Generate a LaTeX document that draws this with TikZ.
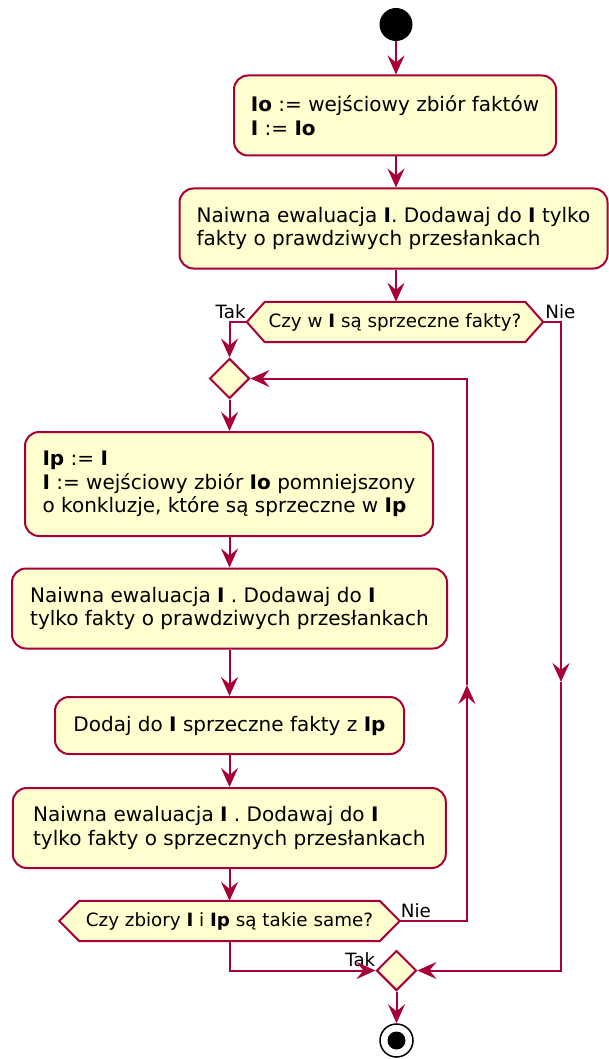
\documentclass[tikz,border=0pt]{standalone}
\usepackage{fontspec}
\setmainfont{DejaVu Sans}
\usetikzlibrary{arrows.meta,shapes.geometric,backgrounds,calc}
\definecolor{pumlred}{HTML}{A80036}
\definecolor{pumlfill}{HTML}{FEFECE}
\begin{document}
\begin{tikzpicture}[x=1pt,y=-1pt,
  conn/.style={draw=pumlred, line width=2pt},
  arr/.style={conn, -{Stealth[length=19pt,width=17pt,inset=7pt]}},
  act/.style={draw=pumlred, fill=pumlfill, line width=2pt, rounded corners=14pt,
    align=left, font=\fontsize{20}{23.5}\selectfont, inner xsep=6pt, inner ysep=2pt},
  hexfill/.style={draw=pumlred, fill=pumlfill, line width=2pt, line join=miter},
  hextext/.style={inner sep=0pt, font=\fontsize{18.3}{22}\selectfont},
  merge/.style={diamond, draw=pumlred, fill=pumlfill, line width=2pt,
    minimum width=40pt, minimum height=40pt, inner sep=0pt, aspect=1},
  lbl/.style={inner sep=0pt, font=\fontsize{18.3}{22}\selectfont}
]
\useasboundingbox (0,0) rectangle (608,1059);

% start
\node[circle, fill=black, minimum size=33pt, inner sep=0pt] (start) at (396,24.5) {};

% top actions
\node[act, minimum width=322pt, minimum height=80pt] (b1) at (395,115.5)
  {\textbf{Io} := wejściowy zbiór faktów\\\textbf{I} := \textbf{Io}};
\node[act, minimum width=428pt, minimum height=80pt] (b2) at (393.5,228.5)
  {Naiwna ewaluacja \textbf{I}. Dodawaj do \textbf{I} tylko\\fakty o prawdziwych przesłankach};

% hexagon 1
\node[hextext, minimum width=260pt, minimum height=40pt] (h1) at (395,322)
  {Czy w \textbf{I} są sprzeczne fakty?};
\coordinate (h1L) at ($(h1.west)+(-18,0)$);
\coordinate (h1R) at ($(h1.east)+(18,0)$);
\begin{scope}[on background layer]
  \path[hexfill] (h1L) -- (h1.north west) -- (h1.north east) -- (h1R)
    -- (h1.south east) -- (h1.south west) -- cycle;
\end{scope}
\node[lbl, anchor=base east] at ($(h1L)+(-1,-4)$) {Tak};
\node[lbl, anchor=base west] at ($(h1R)+(2,-4)$) {Nie};

% loop merge
\node[merge] (m1) at (229.5,378.5) {};

% loop body
\node[act, minimum width=408pt, minimum height=104pt] (b3) at (229,484)
  {\textbf{Ip} := \textbf{I}\\\textbf{I} := wejściowy zbiór \textbf{Io} pomniejszony\\o konkluzje, które są sprzeczne w \textbf{Ip}};
\node[act, minimum width=435pt, minimum height=80pt] (b4) at (229.5,608.5)
  {Naiwna ewaluacja \textbf{I} . Dodawaj do \textbf{I}\\tylko fakty o prawdziwych przesłankach};
\node[act, minimum width=349pt, minimum height=57pt] (b5) at (229.5,725.5)
  {Dodaj do \textbf{I} sprzeczne fakty z \textbf{Ip}};
\node[act, minimum width=433pt, minimum height=80pt] (b6) at (229.3,828)
  {Naiwna ewaluacja \textbf{I} . Dodawaj do \textbf{I}\\tylko fakty o sprzecznych przesłankach};

% hexagon 2
\node[hextext, minimum width=300pt, minimum height=40pt] (h2) at (229.5,921)
  {Czy zbiory \textbf{I} i \textbf{Ip} są takie same?};
\coordinate (h2L) at ($(h2.west)+(-20,0)$);
\coordinate (h2R) at ($(h2.east)+(20,0)$);
\begin{scope}[on background layer]
  \path[hexfill] (h2L) -- (h2.north west) -- (h2.north east) -- (h2R)
    -- (h2.south east) -- (h2.south west) -- cycle;
\end{scope}
\node[lbl, anchor=base west] at ($(h2R)+(1,-4)$) {Nie};

% end merge and stop
\node[merge] (m2) at (396.5,970.5) {};
\node[lbl, anchor=base east] at ($(m2.west)+(0,-4)$) {Tak};
\node[circle, draw=black, fill=white, line width=1.5pt, minimum size=33pt, inner sep=0pt] (stop) at (396.5,1040.5) {};
\node[circle, fill=black, minimum size=18pt, inner sep=0pt] (stopin) at (stop.center) {};

% mid-line arrow points
\coordinate (c1) at (561,682);
\coordinate (c2) at (467,685);

% connectors
\draw[arr] (start.south) -- (start.south |- b1.north);
\draw[arr] (b1.south -| start) -- (b2.north -| start);
\draw[arr] (b2.south -| start) -- (h1.north -| start);
\draw[arr] (h1L) -| (m1.north);
\draw[arr] (h1R) -| (c1);
\draw[arr] (c1) |- (m2.east);
\draw[arr] (m1.south) -- (m1.south |- b3.north);
\draw[arr] (b3.south -| m1) -- (b4.north -| m1);
\draw[arr] (b4.south -| m1) -- (b5.north -| m1);
\draw[arr] (b5.south -| m1) -- (b6.north -| m1);
\draw[arr] (b6.south -| m1) -- (h2.north -| m1);
\draw[arr] (h2R) -| (c2);
\draw[arr] (c2) |- (m1.east);
\draw[arr] (h2.south -| m1) |- (m2.west);
\draw[arr] (m2.south) -- (stop.north);
\end{tikzpicture}
\end{document}
